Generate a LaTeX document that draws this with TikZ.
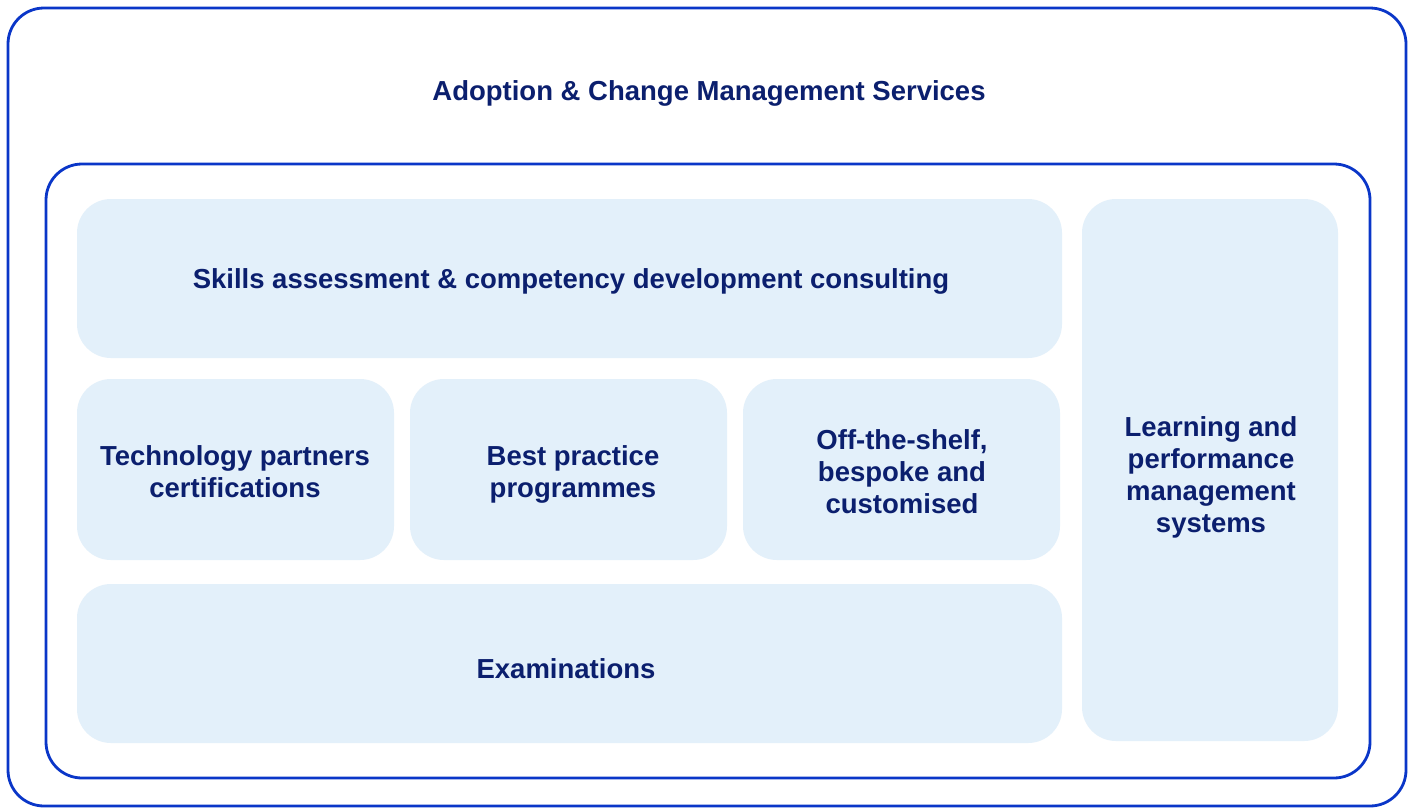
\documentclass[tikz,border=0pt]{standalone}
\usepackage{fontspec}
\setmainfont{Liberation Sans}
\definecolor{frameblue}{HTML}{0A36C8}
\definecolor{boxfill}{HTML}{E3F0FA}
\definecolor{txtnavy}{HTML}{0B1F6E}
\tikzset{
  frame/.style={draw=frameblue, line width=2.8pt, rounded corners=36pt},
  tile/.style={fill=boxfill, rounded corners=34pt},
  lbl/.style={text=txtnavy, font=\fontsize{27.5}{32}\selectfont\bfseries, align=center, inner sep=0pt},
}
\begin{document}
\begin{tikzpicture}[x=1pt,y=-1pt]
\useasboundingbox (0,0) rectangle (1413,809);
\fill[white] (0,0) rectangle (1413,809);
% frames
\draw[frame] (8,8) rectangle (1406,806);
\draw[frame] (46,164) rectangle (1370,778);
% tiles
\fill[tile] (77,199) rectangle (1062,358);
\fill[tile] (77,379) rectangle (394,560);
\fill[tile] (410,379) rectangle (727,560);
\fill[tile] (743,379) rectangle (1060,560);
\fill[tile] (77,584) rectangle (1062,743);
\fill[tile] (1082,199) rectangle (1338,741);
% labels
\node[lbl] (title) at (709,93) {Adoption \& Change Management Services};
\node[lbl] (skills) at (571,281) {Skills assessment \& competency development consulting};
\node[lbl] (tech) at (235,472) {Technology partners\\certifications};
\node[lbl] (best) at (573,474) {Best practice\\programmes};
\node[lbl] (off) at (902,472) {Off-the-shelf,\\bespoke and\\customised};
\node[lbl] (exam) at (566,669) {Examinations};
\node[lbl] (lms) at (1211,477) {Learning and\\performance\\management\\systems};
\end{tikzpicture}
\end{document}
